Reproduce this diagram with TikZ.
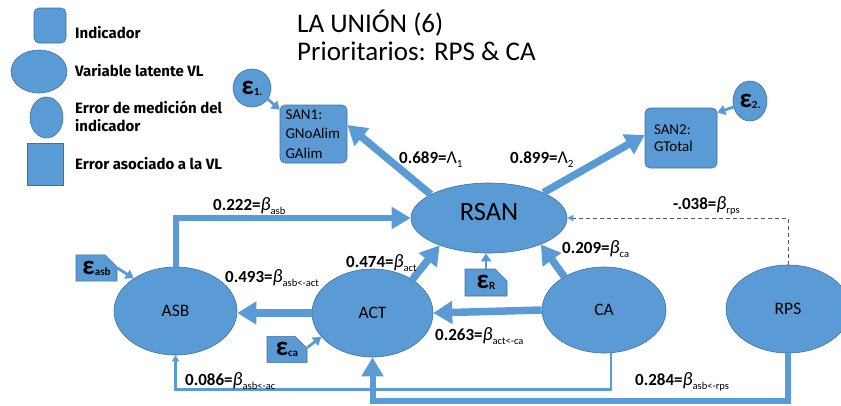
\documentclass[tikz,border=0pt]{standalone}
\usepackage{fontspec}
\setmainfont{Carlito}
\newfontfamily\legendfont{Fira Sans}
\usetikzlibrary{shapes.geometric,shapes.misc,arrows.meta}

\definecolor{nodeblue}{HTML}{5B9BD5}
\definecolor{edgeblue}{HTML}{41719C}
\definecolor{dashgrey}{HTML}{595959}

\newcommand\fsz[2]{\fontsize{#1}{#2}\selectfont}
% path coefficient: value = beta_sub
\newcommand\coef[2]{#1={\mdseries\itshape\fsz{19}{20}β}\raisebox{-3.5pt}{\mdseries\fsz{10.5}{12}#2}}
% loading: value = Lambda_sub
\newcommand\lamb[2]{#1={\mdseries\fsz{18}{20}Λ}\raisebox{-3.5pt}{\mdseries\fsz{11}{12}#2}}
% error symbol with subscript
\newcommand\epsi[1]{{\bfseries\fsz{27}{28}ε}\raisebox{-1pt}{\bfseries\fsz{11}{12}#1}}

\tikzset{
  every node/.style={inner sep=0pt},
  latent/.style={ellipse, fill=nodeblue, draw=edgeblue, line width=0.6pt, font=\fsz{17.5}{20}},
  indic/.style={rectangle, rounded corners=5pt, fill=nodeblue, draw=edgeblue, line width=0.6pt},
  errvl/.style={chamfered rectangle, chamfered rectangle corners=north east,
    chamfered rectangle xsep=6pt, chamfered rectangle ysep=6pt,
    fill=nodeblue, draw=edgeblue, line width=0.6pt},
  legtext/.style={anchor=base west, align=left, font=\legendfont\fsz{15}{18.5}\bfseries},
  coeflabel/.style={anchor=base west, font=\fsz{17}{20}\bfseries},
  fatarrow/.style={draw=nodeblue, line width=7.5pt, -{Triangle[length=19pt,width=22pt]}},
  midarrow/.style={draw=nodeblue, line width=6pt, -{Triangle[length=19pt,width=21pt]}},
  thinarrow/.style={draw=nodeblue, line width=2.8pt, -{Triangle[length=8pt,width=10pt]}},
  slimarrow/.style={draw=nodeblue, line width=2.5pt, -{Triangle[length=6pt,width=7pt]}},
  dasharrow/.style={draw=dashgrey, line width=0.9pt, dash pattern=on 4pt off 3pt,
    -{Triangle[length=6pt,width=6pt,color=nodeblue]}},
}

\begin{document}
\begin{tikzpicture}[x=1pt,y=-1pt]
\useasboundingbox (0,0) rectangle (841,405);

% legend
\node[indic, minimum width=32pt, minimum height=35pt] (legInd) at (50,25.5) {};
\node[latent, minimum width=56pt, minimum height=43pt] (legLat) at (39,71.5) {};
\node[latent, minimum width=33pt, minimum height=41pt] (legErr) at (46.5,117.5) {};
\node[errvl, minimum width=36pt, minimum height=42pt] (legVL) at (45,164) {};
\node[legtext] (legIndTxt) at (75,38.5) {Indicador};
\node[legtext] (legLatTxt) at (75,76) {Variable latente VL};
\node[legtext] (legErrTxt) at (75,131.7) {Error de medición del\\indicador};
\node[legtext] (legVLTxt) at (75,169.3) {Error asociado a la VL};

% title
\node[anchor=base west, font=\fsz{27}{30}] (title1) at (297,32) {LA UNIÓN (6)};
\node[anchor=base west, font=\fsz{27}{30}] (title2) at (297,60) {Prioritarios: RPS \& CA};

% indicators and their errors
\node[indic, minimum width=67pt, minimum height=58pt, text width=56pt, align=left,
      font=\fsz{15}{19.5}] (SAN1) at (313.5,134) {SAN1:\\GNoAlim\\GAlim};
\node[indic, minimum width=72pt, minimum height=60pt, text width=54pt, align=left,
      font=\fsz{15}{17.5}] (SAN2) at (681,138) {SAN2:\\GTotal};
\node[latent, minimum width=38pt, minimum height=38pt] (e1) at (252,88) {\epsi{1.}};
\node[latent, minimum width=34pt, minimum height=40pt] (e2) at (750,101) {\epsi{2.}};

% latent variables
\node[latent, minimum width=156pt, minimum height=70pt,
      label={[name=RSANtxt, yshift=6pt, font=\fsz{26.5}{28}]center:RSAN}] (RSAN) at (489,218) {};
\node[latent, minimum width=123pt, minimum height=88pt] (ASB) at (175.5,311) {ASB};
\node[latent, minimum width=121pt, minimum height=88pt] (ACT) at (372.5,313) {ACT};
\node[latent, minimum width=124pt, minimum height=86pt] (CA) at (604,310) {CA};
\node[latent, minimum width=124pt, minimum height=88pt] (RPS) at (788,309) {RPS};

% errors of the latent variables
\node[errvl, minimum width=41pt, minimum height=26pt] (easb) at (96.5,268) {\epsi{asb}};
\node[errvl, minimum width=40pt, minimum height=25pt] (eca) at (287,349.5) {\epsi{ca}};
\node[errvl, minimum width=42pt, minimum height=27pt] (eR) at (486,282.5) {\epsi{R}};

% connectors
\draw[fatarrow] (RSAN.158) -- ([yshift=9pt]SAN1.east);
\draw[fatarrow] (RSAN.25) -- ([yshift=3pt]SAN2.west);
\draw[midarrow] (ASB.north) |- (RSAN.west);
\draw[fatarrow] (ACT.west) -- (ACT.west -| ASB.east);
\draw[fatarrow] (ACT.40) -- (RSAN.209);
\draw[fatarrow] (CA.140) -- (RSAN.333);
\draw[fatarrow] (CA.west) -- (ACT.east);
\draw[thinarrow] (eR.north) -- (eR.north |- RSAN.south);
\draw[thinarrow] (easb.east) -- (ASB.142);
\draw[thinarrow] ([yshift=2pt]eca.east) -- (ACT.205);
\draw[thinarrow] (e1.-35) -- ([yshift=-5pt]SAN1.north west);
\draw[thinarrow] (e2.200) -- ([yshift=-5pt]SAN2.north east);
\draw[dasharrow] (RPS.north) |- (RSAN.east);
\draw[slimarrow] ([xshift=7pt]CA.south) -- ++(0,36) -| (ASB.south);
\draw[midarrow] (RPS.south) -- ++(0,48) -| (ACT.south);

% coefficients
\node[coeflabel] (l689) at (399,163.5) {\lamb{0.689}{1}};
\node[coeflabel] (l899) at (510,163.5) {\lamb{0.899}{2}};
\node[coeflabel] (l222) at (213,210.5) {\coef{0.222}{asb}};
\node[coeflabel] (l493) at (225,282.5) {\coef{0.493}{asb<-act}};
\node[coeflabel] (l474) at (346,267.5) {\coef{0.474}{act}};
\node[coeflabel] (l209) at (562,253.5) {\coef{0.209}{ca}};
\node[coeflabel] (l263) at (435,340.5) {\coef{0.263}{act<-ca}};
\node[coeflabel] (l038) at (673,209.5) {\coef{-.038}{rps}};
\node[coeflabel] (l086) at (185,385.5) {\coef{0.086}{asb<-ac}};
\node[coeflabel] (l284) at (635,385.5) {\coef{0.284}{asb<-rps}};
\end{tikzpicture}
\end{document}
